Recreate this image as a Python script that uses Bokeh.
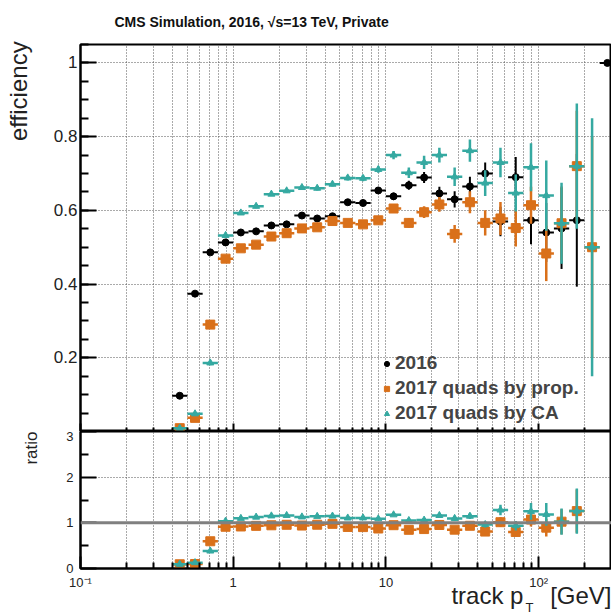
import numpy as np
from bokeh.plotting import figure
from bokeh.layouts import column
from bokeh.models import (ColumnDataSource, Range1d, FixedTicker, Title,
                          Legend, LegendItem, Span)
from bokeh.embed import file_html
from bokeh.resources import INLINE

nan = float("nan")

# ---- data: tracking efficiency vs track pT (10 log bins per decade) ----
bin_edges = [0.398, 0.501, 0.631, 0.794, 1.0, 1.259, 1.585, 1.995, 2.512,
             3.162, 3.981, 5.012, 6.310, 7.943, 10.0, 12.59, 15.85, 19.95,
             25.12, 31.62, 39.81, 50.12, 63.10, 79.43, 100.0, 125.9, 158.5,
             199.5, 251.2, 316.2]

eff_2016 = [0.097, 0.374, 0.486, 0.513, 0.540, 0.543, 0.559, 0.562, 0.586,
            0.578, 0.584, 0.622, 0.620, 0.654, 0.638, 0.668, 0.689, 0.646,
            0.630, 0.665, 0.700, 0.570, 0.690, 0.573, 0.540, 0.551, 0.573,
            nan, 1.000]
err_2016 = [0.005, 0.005, 0.005, 0.005, 0.005, 0.005, 0.005, 0.005, 0.005,
            0.005, 0.006, 0.006, 0.007, 0.008, 0.010, 0.012, 0.015, 0.018,
            0.022, 0.026, 0.030, 0.040, 0.055, 0.065, 0.080, 0.110, 0.180,
            nan, 0.0]

eff_prop = [0.009, 0.037, 0.290, 0.469, 0.497, 0.507, 0.529, 0.538, 0.551,
            0.554, 0.571, 0.566, 0.562, 0.573, 0.605, 0.566, 0.595, 0.616,
            0.536, 0.622, 0.566, 0.578, 0.552, 0.614, 0.483, 0.565, 0.720,
            0.500, nan]
err_prop = [0.004, 0.005, 0.006, 0.005, 0.005, 0.005, 0.005, 0.005, 0.005,
            0.006, 0.006, 0.007, 0.008, 0.009, 0.011, 0.013, 0.016, 0.020,
            0.024, 0.030, 0.034, 0.045, 0.050, 0.050, 0.075, 0.100, 0.150,
            0.300, nan]

eff_ca = [0.009, 0.048, 0.186, 0.532, 0.593, 0.611, 0.644, 0.653, 0.662,
          0.660, 0.671, 0.688, 0.687, 0.711, 0.750, 0.702, 0.730, 0.750,
          0.691, 0.762, 0.674, 0.730, 0.647, 0.717, 0.640, 0.565, 0.720,
          0.500, nan]
err_ca = [0.004, 0.005, 0.006, 0.005, 0.005, 0.005, 0.005, 0.005, 0.005,
          0.006, 0.006, 0.007, 0.008, 0.009, 0.011, 0.014, 0.018, 0.020,
          0.025, 0.030, 0.035, 0.040, 0.050, 0.065, 0.095, 0.110, 0.170,
          0.350, nan]

series_names = ["2016", "2017 quads by prop.", "2017 quads by CA"]
series_colors = ["#000000", "#d9701a", "#35a9a1"]

x_major = [0.1, 1, 10, 100]
x_labels = {0.1: "10⁻¹", 1: "1", 10: "10", 100: "10²"}

FONT = "Liberation Sans"
GRID_COLOR = "#555555"
TEXT_COLOR = "#222222"
NBSP = "\u00a0"

lo = np.array(bin_edges[:-1])
hi = np.array(bin_edges[1:])
pt = np.sqrt(lo * hi)

x_minor = [k * 10.0 ** d for d in (-1, 0, 1, 2) for k in range(2, 10)
           if k * 10.0 ** d <= 300]


def make_source(val, err):
    val = np.array(val, dtype=float)
    err = np.array(err, dtype=float)
    keep = np.isfinite(val)
    return ColumnDataSource(dict(x=pt[keep], lo=lo[keep], hi=hi[keep],
                                 y=val[keep], ylo=(val - err)[keep],
                                 yhi=(val + err)[keep]))


def draw_points(p, src, color, marker, size, lw):
    p.segment(x0="lo", x1="hi", y0="y", y1="y", source=src,
              line_color=color, line_width=lw)
    p.segment(x0="x", x1="x", y0="ylo", y1="yhi", source=src,
              line_color=color, line_width=lw)
    return p.scatter(x="x", y="y", source=src, marker=marker, size=size,
                     fill_color=color, line_color=color)


def side_title(text, size, **kw):
    return Title(text=text, text_font=FONT, text_font_size=size,
                 text_font_style="normal", text_color=TEXT_COLOR, **kw)


def style_common(p):
    p.outline_line_color = "black"
    p.outline_line_width = 2
    p.background_fill_color = "white"
    p.border_fill_color = "white"
    for ax in (p.xaxis[0], p.yaxis[0]):
        ax.axis_line_width = 2
        ax.axis_line_color = "black"
        ax.major_tick_line_color = "black"
        ax.minor_tick_line_color = "black"
        ax.major_tick_line_width = 2
        ax.minor_tick_line_width = 2
        ax.major_tick_out = 0
        ax.minor_tick_out = 0
        ax.major_label_text_font = FONT
        ax.major_label_text_color = TEXT_COLOR
        ax.axis_label_text_font = FONT
        ax.axis_label_text_color = TEXT_COLOR
        ax.axis_label_text_font_style = "normal"
    for g in (p.xgrid[0], p.ygrid[0]):
        g.grid_line_color = GRID_COLOR
        g.grid_line_dash = "1 2"
        g.grid_line_width = 1
    p.xgrid[0].minor_grid_line_color = GRID_COLOR
    p.xgrid[0].minor_grid_line_dash = "1 2"
    p.xgrid[0].minor_grid_line_width = 1


# ---------------- efficiency panel ----------------
top = figure(width=611, height=431, x_axis_type="log",
             x_range=Range1d(0.1, 300), y_range=Range1d(0, 1.05),
             output_backend="svg", toolbar_location=None,
             min_border_left=79, min_border_right=0,
             min_border_top=44, min_border_bottom=0)
style_common(top)
top.title.text = "CMS Simulation, 2016,  √s=13 TeV, Private"
top.title.align = "left"
top.title.vertical_align = "top"
top.title.offset = 34
top.title.standoff = 26
top.title.text_font = FONT
top.title.text_font_size = "14px"
top.title.text_font_style = "bold"
top.title.text_color = "#111111"

top.xaxis.ticker = FixedTicker(ticks=x_major, minor_ticks=x_minor)
top.xaxis.major_label_text_font_size = "1px"
top.xaxis.major_label_text_alpha = 0
top.xaxis.major_label_standoff = 0
top.xaxis.major_tick_in = 8
top.xaxis.minor_tick_in = 4
top.yaxis.ticker = FixedTicker(ticks=[0, 0.2, 0.4, 0.6, 0.8, 1],
                               minor_ticks=[round(0.05 * k, 2) for k in range(22)])
top.yaxis.major_label_overrides = {0: " "}
top.yaxis.major_label_text_font_size = "17px"
top.yaxis.major_label_standoff = 3
top.yaxis.major_tick_in = 16
top.yaxis.minor_tick_in = 8
# the "end" alignment centres the label on the frame top, so trailing
# no-break spaces push the visible word down below it
top.yaxis.axis_label = "efficiency" + NBSP * 14
top.yaxis.axis_label_text_font_size = "24px"
top.yaxis.axis_label_standoff = 19
top.yaxis.axis_label_align = "end"

sources = [make_source(eff_2016, err_2016), make_source(eff_prop, err_prop),
           make_source(eff_ca, err_ca)]
markers = [("circle", 7, 2), ("square", 9, 2.5), ("triangle", 7, 2.5)]
renderers = []
for src, color, (mk, sz, lw) in zip(sources, series_colors, markers):
    renderers.append(draw_points(top, src, color, mk, sz, lw))

legend = Legend(items=[LegendItem(label=n, renderers=[r])
                       for n, r in zip(series_names, renderers)],
                location=(300, 7), padding=0, margin=0, spacing=3,
                glyph_width=13, glyph_height=13, label_height=20,
                label_standoff=2, label_text_font=FONT,
                label_text_font_size="19px", label_text_font_style="bold",
                background_fill_alpha=0, border_line_alpha=0)
top.add_layout(legend)

# ---------------- ratio panel ----------------
bot = figure(width=611, height=182, x_axis_type="log",
             x_range=top.x_range, y_range=Range1d(0, 3),
             output_backend="svg", toolbar_location=None,
             min_border_left=79, min_border_right=0,
             min_border_top=0, min_border_bottom=45)
style_common(bot)
bot.xaxis.ticker = FixedTicker(ticks=x_major, minor_ticks=x_minor)
bot.xaxis.major_label_overrides = x_labels
bot.xaxis.major_label_text_font_size = "13px"
bot.xaxis.major_label_standoff = 6
bot.xaxis.major_tick_in = 12
bot.xaxis.minor_tick_in = 6
bot.yaxis.ticker = FixedTicker(ticks=[0, 1, 2, 3], minor_ticks=[0.5, 1.5, 2.5])
bot.yaxis.major_label_text_font_size = "13px"
bot.yaxis.major_label_standoff = 7
bot.yaxis.major_tick_in = 16
bot.yaxis.minor_tick_in = 8
bot.add_layout(side_title("ratio", "17px", align="right",
                          vertical_align="top", standoff=42), "left")

# x-axis title: "track p_T [GeV]" with the T set as a subscript row
bot.add_layout(side_title("track p" + NBSP * 4 + "[GeV]", "24px",
                          align="right", vertical_align="top",
                          standoff=-22), "below")
bot.add_layout(side_title("T", "13px", align="left", vertical_align="bottom",
                          offset=445, standoff=-4), "below")

bot.add_layout(Span(location=1, dimension="width", line_color="#808080",
                    line_width=3))

ref = np.array(eff_2016, dtype=float)
ref_err = np.array(err_2016, dtype=float)
for val, err, color, (mk, sz, lw) in [(eff_prop, err_prop, series_colors[1], markers[1]),
                                       (eff_ca, err_ca, series_colors[2], markers[2])]:
    v = np.array(val, dtype=float)
    e = np.array(err, dtype=float)
    with np.errstate(invalid="ignore", divide="ignore"):
        r = v / ref
        r_err = r * np.sqrt((e / v) ** 2 + (ref_err / ref) ** 2)
    draw_points(bot, make_source(r, r_err), color, mk, sz, lw)

layout = column(top, bot, spacing=0)
open("out.html", "w").write(file_html(layout, INLINE))
